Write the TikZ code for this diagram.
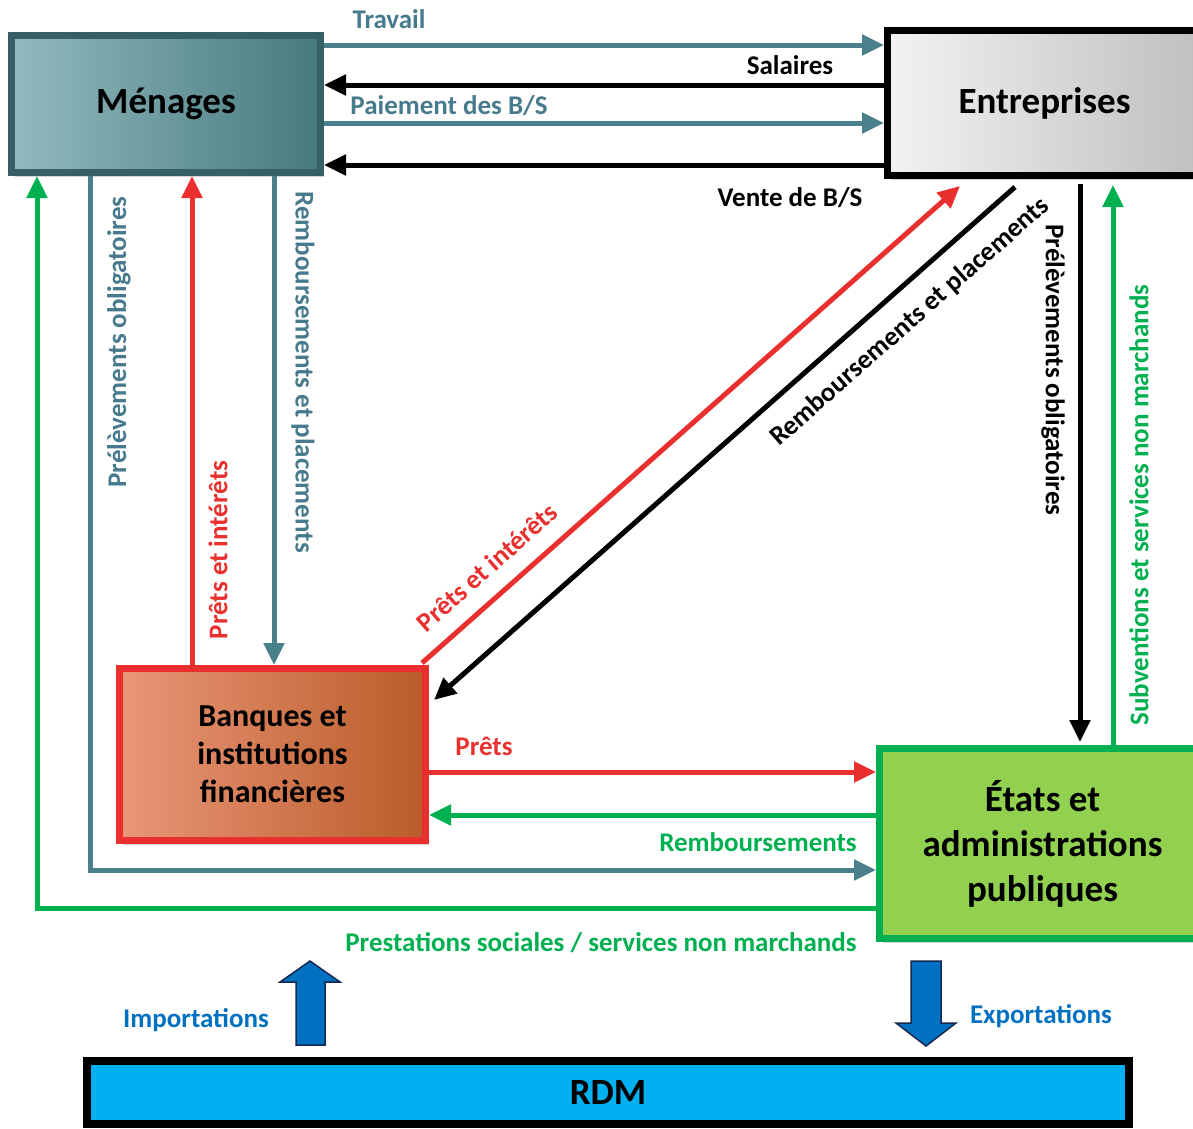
\documentclass[tikz,border=0pt]{standalone}
\usepackage{fontspec}
\setmainfont{Carlito}
\usetikzlibrary{arrows.meta,calc,shadows}
\definecolor{tealc}{RGB}{74,128,138}
\definecolor{tealtxt}{RGB}{72,122,142}
\definecolor{menborder}{RGB}{55,96,100}
\definecolor{menlight}{RGB}{146,186,190}
\definecolor{mendark}{RGB}{70,122,126}
\definecolor{redc}{RGB}{234,48,46}
\definecolor{greenc}{RGB}{0,176,80}
\definecolor{lgreen}{RGB}{146,208,80}
\definecolor{bankl}{RGB}{234,150,120}
\definecolor{bankd}{RGB}{186,92,42}
\definecolor{bluec}{RGB}{0,112,192}
\definecolor{rdmc}{RGB}{0,176,240}
\definecolor{navyc}{RGB}{20,40,80}
\begin{document}
\begin{tikzpicture}[x=1pt,y=-1pt,
  box/.style={draw, line width=7pt, inner sep=0pt, align=center,
    drop shadow={opacity=0.35, shadow xshift=3pt, shadow yshift=-4pt},
    font=\bfseries\fontsize{37}{45}\selectfont},
  lab/.style={font=\bfseries\fontsize{27}{30}\selectfont, inner sep=0pt},
  flow/.style={line width=5pt, -{Triangle[length=22pt,width=20pt]}},
  bigarrow/.style={draw=navyc, line width=1.5pt, fill=bluec}
]
\useasboundingbox (0,0) rectangle (1193,1128);
\clip (0,0) rectangle (1193,1128);

% boxes
\node[box, draw=menborder, left color=menlight, right color=mendark,
  minimum width=309pt, minimum height=137pt] (M) at (166,104) {\raisebox{-4pt}{Ménages}};
\node[box, draw=black, left color=white!95!black, right color=white!75!black,
  minimum width=314pt, minimum height=145pt] (E) at (1044.5,103) {\raisebox{-4pt}{Entreprises}};
\node[box, draw=redc, left color=bankl, right color=bankd,
  minimum width=306pt, minimum height=172pt,
  font=\bfseries\fontsize{32}{38}\selectfont] (B) at (272.5,754.5) {Banques et\\institutions\\financières};
\node[box, draw=greenc, fill=lgreen,
  minimum width=317pt, minimum height=190pt] (S) at (1038,843.5) {\hspace*{9pt}États et\\\hspace*{9pt}administrations\\\hspace*{9pt}publiques};
\node[box, draw=black, fill=rdmc, line width=8pt,
  minimum width=1042pt, minimum height=63pt] (R) at (608,1092.5) {RDM};

% Ménages <-> Entreprises
\draw[flow, tealc] (M.east |- 0,45) -- (E.west |- 0,45);
\draw[flow, black] (E.west |- 0,85) -- (M.east |- 0,85);
\draw[flow, tealc] (M.east |- 0,123) -- (E.west |- 0,123);
\draw[flow, black] (E.west |- 0,165) -- (M.east |- 0,165);
\node[lab, tealtxt] (lTravail) at (389,19) {Travail};
\node[lab] (lSal) at (790,65) {Salaires};
\node[lab, tealtxt] (lPai) at (449,106) {Paiement des B/S};
\node[lab] (lVente) at (790,198) {Vente de B/S};

% Ménages <-> États
\draw[flow, tealc] (M.south -| 90,0) |- (S.west |- 0,870);
\draw[flow, greenc] (S.west |- 0,908) -| (M.south -| 37,0);
\node[lab, tealtxt, rotate=90] (lPrelM) at (119,342) {Prélèvements obligatoires};
\node[lab, greenc] (lPrest) at (601,943) {Prestations sociales / services non marchands};

% Ménages <-> Banques
\draw[flow, redc] (B.north -| 192,0) -- (M.south -| 192,0);
\draw[flow, tealc] (M.south -| 274,0) -- (B.north -| 274,0);
\node[lab, redc, rotate=90] (lPIm) at (218,550) {Prêts et intérêts};
\node[lab, tealtxt, rotate=-90] (lRPm) at (303,372) {Remboursements et placements};

% Banques <-> Entreprises
\draw[flow, redc] ($(B.north east)+(-7,-2)$) -- ($(E.south -| 960,0)+(0,7)$);
\draw[flow, black] ($(E.south -| 1015,0)+(0,8)$) -- ($(B.north east)+(5,35)$);
\node[lab, redc, rotate=41.5] (lPIe) at (487,567) {Prêts et intérêts};
\node[lab, rotate=41.3] (lRPe) at (910,322) {Remboursements et placements};

% Entreprises <-> États
\draw[flow, black] ($(E.south -| 1080,0)+(0,5)$) -- ($(S.north -| 1080,0)+(0,-3)$);
\draw[flow, greenc] (S.north -| 1113,0) -- ($(E.south -| 1113,0)+(0,6)$);
\node[lab, rotate=-90] (lPrelE) at (1053,370) {Prélèvements obligatoires};
\node[lab, greenc, rotate=90] (lSub) at (1139,505) {Subventions et services non marchands};

% Banques <-> États
\draw[flow, redc] (B.east |- 0,772) -- (S.west |- 0,772);
\draw[flow, greenc] (S.west |- 0,815) -- (B.east |- 0,815);
\node[lab, redc] (lPrets) at (484,746) {Prêts};
\node[lab, greenc] (lRemb) at (758,842) {Remboursements};

% RDM
\draw[bigarrow] (296,1045) -- (296,982) -- (280,982) -- (310,961) -- (340,982) -- (325,982) -- (325,1045) -- cycle;
\draw[bigarrow] (911,961) -- (911,1023) -- (896,1023) -- (926,1046) -- (956,1023) -- (941,1023) -- (941,961) -- cycle;
\node[lab, bluec] (lImp) at (196,1020) {Importations};
\node[lab, bluec] (lExp) at (1041,1016) {Exportations};
\end{tikzpicture}
\end{document}
